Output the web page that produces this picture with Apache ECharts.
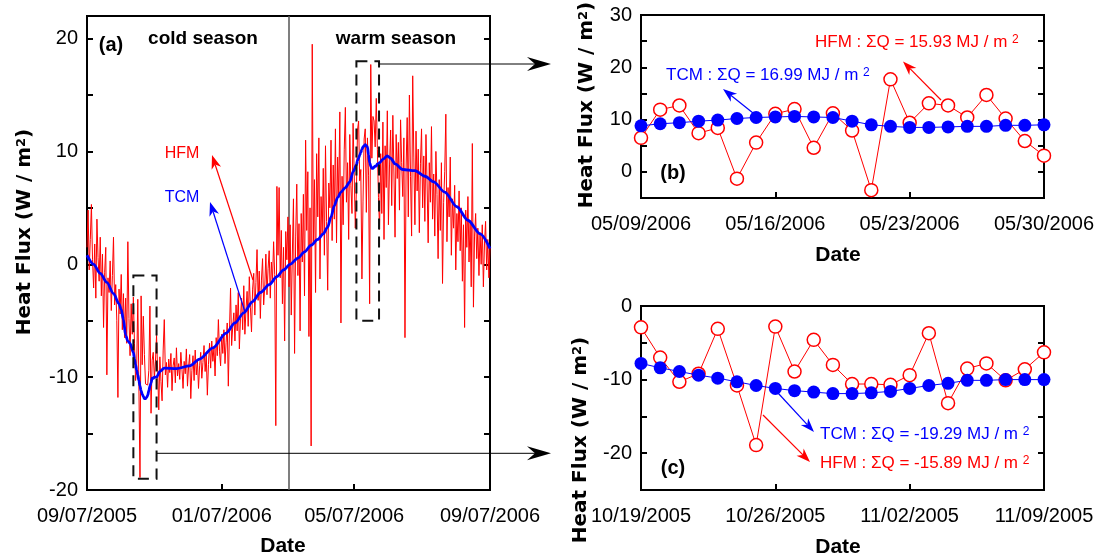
<!DOCTYPE html>
<html><head><meta charset="utf-8">
<script src="https://cdn.jsdelivr.net/npm/echarts@6/dist/echarts.min.js"></script>
<style>html,body{margin:0;padding:0;background:#fff}#c{width:1109px;height:560px}</style>
</head><body><div id="c"></div>
<script>
// ---------------- data ----------------
// Panel (a): day index 0 = 09/07/2005
const aTickDays = [0, 122, 242, 365];
const aTickLabels = ['09/07/2005', '01/07/2006', '05/07/2006', '09/07/2006'];
const aYTicks = [-20, -15, -10, -5, 0, 5, 10, 15, 20];
const aYLabels = [-20, -10, 0, 10, 20];
const seasonSplitDay = 183;
const coldWindow = [42, 63, -1, -19];      // day start, day end, top, bottom
const warmWindow = [244, 264.5, 18, -5];

const hfmDaily = [
  1.5, 4.8, -0.5, 2.2, 5.3, 0.4, -2.1, 1.8, -3.0, 4.0,
  0.6, -1.5, 2.4, -2.8, 0.9, -5.6, -0.7, 1.5, -9.8, -1.2,
  -2.5, 0.3, -4.1, -1.0, 2.4, -3.6, -1.8, -5.0, -11.8, -2.2,
  -4.4, -0.9, -5.8, -2.6, -6.5, -3.0, -7.0, 2.0, -4.8, -8.1, -3.5, -6.2,
  -2.9, -7.0, -10.3, -9.2, -3.1, -10.8, -18.9, -2.8, -8.9, -4.6, -8.0, -10.6, -10.6, -10.7, -9.4, -3.7, -13.2, -8.5, -7.8, -10.1, -8.6, -6.3,
  -9.5, -12.9, -8.2, -10.4, -12.1, -7.6, -4.9, -9.8, -8.7, -10.9,
  -8.4, -9.6, -7.9, -11.2, -9.0, -8.3, -10.5, -7.4, -9.9, -8.8,
  -10.2, -7.8, -9.3, -11.0, -8.6, -9.7, -7.5, -10.8, -9.1, -8.0,
  -11.9, -9.4, -8.1, -10.3, -7.6, -9.8, -8.5, -11.0, -9.0, -7.8,
  -10.1, -8.7, -7.2, -9.5, -8.0, -11.6, -8.9, -7.0, -9.2, -6.8,
  -8.6, -7.4, -9.9, -6.5, -8.1, -4.9, -7.7, -9.0, -6.2, -7.9,
  -5.8, -8.8, -6.9, -5.2, -10.8, -6.0, -2.1, -7.2, -5.5, -4.3,
  -6.8, -3.6, -5.9, -2.5, -7.5, -4.8, -3.0, -5.8, -1.9, -6.2,
  -4.0, -2.4, -5.5, -1.1, -3.8, -6.0, -2.2, -0.8, -4.5, -1.6,
  1.3, -3.2, -0.6, -4.8, -1.4, 0.5, -3.6, -2.0, 0.9, -2.7,
  -0.4, 1.2, -3.0, 0.2, -1.5, 2.0, -0.9, -14.3, 6.9, 0.8,
  6.8, -1.2, 3.0, -3.5, 1.5, -6.8, 2.9, 0.4, 4.2, -2.0,
  3.5, -4.5, 1.0, 5.8, -7.9, 2.5, 7.1, -1.0, 3.6, -5.9,
  4.5, 0.2, 6.2, -2.8, 11.0, 3.0, 8.2, -6.4, 5.0, -16.1,
  19.5, 1.8, 7.5, -2.5, 9.8, 4.2, 11.2, -1.3, 6.0, 2.5,
  8.5, 0.8, 10.5, 3.8, -2.3, 7.2, 5.0, 11.0, 2.1, 8.8,
  4.0, 12.0, 1.9, 9.5, 6.2, 13.5, -5.2, 7.8, 3.5, 10.2,
  13.9, 5.5, 9.0, 2.2, 11.5, 7.0, 4.5, 12.5, 8.0, 3.2,
  6.5, 11.9, 12.7, 7.4, 8.4, -1.3, 5.6, 11.1, 12.0, 4.6, 11.2, 7.9, -3.5, 17.7, 9.4, 13.1, 12.7, 10.4, 14.7, 10.2, 5.9, 3.1,
  9.8, 4.5, 12.6, 2.2, 10.5, 6.8, 13.6, 3.5, 8.8, 11.9,
  5.2, 13.2, 8.0, 2.4, 11.5, 7.6, 10.8, 4.8, 12.8, 9.0,
  6.0, 11.2, -6.5, 8.5, 13.0, 4.2, 15.0, 7.8, 2.5, 16.7,
  9.5, 3.5, 11.8, 6.5, 10.2, 2.8, 8.9, 12.0, 5.0, 9.6,
  3.8, 11.5, 7.2, 1.9, 9.0, 5.5, 12.2, 4.0, 8.0, 2.5,
  10.0, 6.2, 0.5, 7.5, 3.0, 9.0, -1.7, 5.5, 8.2, 13.3,
  2.0, 6.8, 4.2, 9.5, 0.8, 5.8, 3.2, 7.0, -0.5, 4.5,
  2.0, 6.5, 1.2, 5.0, -1.5, 3.5, -5.6, 4.8, 1.5, 6.0,
  0.2, 3.8, -2.0, 10.7, -3.8, 2.5, 4.5, 0.5, 3.2, -1.0,
  2.8, 0.0, 3.5, -2.0, 1.8, 3.8, -0.5, 2.2, -1.2, 1.5
];

const tcmDays = [
  0, 6, 12, 18, 24, 29, 31, 33, 35, 37, 39,
  42, 43, 44, 45, 46, 47, 48, 49, 50, 51, 52, 53, 54, 55, 56, 57, 58, 59, 60, 61, 62, 63,
  66, 70, 81, 93, 102, 114, 126, 134, 142, 150, 157, 165, 172, 178, 184, 191, 197, 203, 209, 214, 218, 221, 224, 227, 230, 234, 238, 241,
  244, 245, 246, 247, 248, 249, 250, 251, 252, 253, 254, 255, 256, 257, 258, 259, 260, 261, 262, 263, 264, 265,
  268, 272, 275, 279, 286, 297, 306, 314, 324, 335, 345, 356, 365
];
const tcmValues = [
  0.8, 0.0, -0.8, -1.6, -2.6, -3.5, -4.0, -4.9, -6.3, -6.8, -7.0,
  -7.8, -8.4, -8.9, -9.4, -9.8, -10.3, -10.8, -11.2, -11.5, -11.7, -11.9, -11.9, -11.8, -11.6, -11.2, -10.8, -10.5, -10.1, -10.1, -10.0, -10.0, -10.0,
  -9.5, -9.2, -9.25, -9.0, -8.4, -7.4, -6.1, -5.2, -4.3, -3.3, -2.5, -1.8, -1.1, -0.5, 0.0, 0.55, 1.1, 1.7, 2.2, 2.7, 3.3, 4.2, 5.2, 5.9, 6.4, 6.8, 7.3, 8.2,
  8.8, 9.2, 9.4, 9.7, 9.9, 10.2, 10.4, 10.5, 10.6, 10.5, 10.4, 9.7, 9.0, 8.7, 8.5, 8.5, 8.6, 8.7, 8.7, 8.9, 8.9, 9.0,
  9.3, 9.6, 9.4, 8.9, 8.4, 8.3, 7.8, 7.3, 6.4, 5.1, 3.9, 2.7, 1.4
];

// Panel (b): 05/09/2006 .. 05/30/2006
const bTickIdx = [0, 7, 14, 21];
const bTickLabels = ['05/09/2006', '05/16/2006', '05/23/2006', '05/30/2006'];
const bYTicks = [-5, 0, 5, 10, 15, 20, 25, 30];
const bYLabels = [0, 10, 20, 30];
const bHFM = [6.5, 11.9, 12.7, 7.4, 8.4, -1.3, 5.6, 11.1, 12.0, 4.6, 11.2, 7.9, -3.5, 17.7, 9.4, 13.1, 12.7, 10.4, 14.7, 10.2, 5.9, 3.1];
const bTCM = [8.8, 9.2, 9.4, 9.7, 9.9, 10.2, 10.4, 10.5, 10.6, 10.5, 10.4, 9.7, 9.0, 8.7, 8.5, 8.5, 8.6, 8.7, 8.7, 8.9, 8.9, 9.0];

// Panel (c): 10/19/2005 .. 11/09/2005
const cTickIdx = [0, 7, 14, 21];
const cTickLabels = ['10/19/2005', '10/26/2005', '11/02/2005', '11/09/2005'];
const cYTicks = [-25, -20, -15, -10, -5, 0];
const cYLabels = [-20, -10, 0];
const cHFM = [-2.9, -7.0, -10.3, -9.2, -3.1, -10.8, -18.9, -2.8, -8.9, -4.6, -8.0, -10.6, -10.6, -10.7, -9.4, -3.7, -13.2, -8.5, -7.8, -10.1, -8.6, -6.3];
const cTCM = [-7.8, -8.4, -8.9, -9.4, -9.8, -10.3, -10.8, -11.2, -11.5, -11.7, -11.9, -11.9, -11.8, -11.6, -11.2, -10.8, -10.5, -10.1, -10.1, -10.0, -10.0, -10.0];

// ---------------- chart ----------------
const FONT = 'Liberation Sans';
const TFONT = 'DejaVu Sans';
const RED = '#ff0000', BLUE = '#0000ff';
const chart = echarts.init(document.getElementById('c'), null, {renderer: 'canvas'});

function xAxisFor(gi, min, max, ticks, labels) {
  return {
    type: 'value', gridIndex: gi, min, max, position: 'bottom',
    axisLine: {show: false, onZero: false}, splitLine: {show: false},
    axisTick: {show: true, inside: true, length: 6, customValues: ticks, lineStyle: {color: '#000', width: 2}},
    axisLabel: {show: true, customValues: ticks, margin: 16, color: '#000', fontSize: 20, fontFamily: FONT,
      formatter: v => labels[ticks.indexOf(v)] || ''}
  };
}
function yAxisFor(gi, min, max, ticks, labels, right) {
  return {
    type: 'value', gridIndex: gi, min, max, position: right ? 'right' : 'left',
    axisLine: {show: false, onZero: false}, splitLine: {show: false},
    axisTick: {show: true, inside: true, length: 6, customValues: ticks, lineStyle: {color: '#000', width: 2}},
    axisLabel: {show: !right, customValues: labels, margin: 9, color: '#000', fontSize: 20, fontFamily: FONT,
      formatter: v => String(v)}
  };
}

function arrow(x1, y1, x2, y2, color, lw, L, W, notch) {
  const dx = x2 - x1, dy = y2 - y1, len = Math.hypot(dx, dy);
  const ux = dx / len, uy = dy / len, nx = -uy, ny = ux;
  const bx = x2 - ux * L, by = y2 - uy * L;
  const mx = x2 - ux * (L - notch), my = y2 - uy * (L - notch);
  return [
    {type: 'line', z: 100, shape: {x1, y1, x2: mx, y2: my}, style: {stroke: color, lineWidth: lw}},
    {type: 'polygon', z: 100, shape: {points: [[x2, y2], [bx + nx * W, by + ny * W], [mx, my], [bx - nx * W, by - ny * W]]}, style: {fill: color}}
  ];
}
function txt(x, y, text, opts) {
  const o = Object.assign({size: 20, weight: 'normal', color: '#000', align: 'center', rot: 0, rich: null}, opts || {});
  const style = {text, fill: o.color, fontSize: o.size, fontWeight: o.weight, fontFamily: FONT,
    align: o.align, verticalAlign: 'middle', textAlign: o.align, textVerticalAlign: 'middle'};
  if (o.rich) style.rich = o.rich;
  return {type: 'text', z: 100, x, y, rotation: o.rot, style};
}
const titleRich = {
  b: {fontSize: 20, fontWeight: 'bold', fontFamily: TFONT, fill: '#000', color: '#000'},
  s: {fontSize: 13, fontWeight: 'bold', fontFamily: TFONT, fill: '#000', color: '#000', verticalAlign: 'top'}
};
function annRich(color) {
  return {
    t: {fontSize: 17, fontFamily: FONT, fill: color, color: color},
    s: {fontSize: 12, fontFamily: FONT, fill: color, color: color, verticalAlign: 'top'}
  };
}
const yTitle = '{b|Heat Flux (W / m}{s|2}{b|)}';

const graphic = [].concat(
  txt(25, 232, yTitle, {rot: Math.PI / 2, rich: titleRich}),
  txt(587, 105, yTitle, {rot: Math.PI / 2, rich: titleRich}),
  txt(581, 440, yTitle, {rot: Math.PI / 2, rich: titleRich}),
  txt(283, 546, 'Date', {size: 21, weight: 'bold'}),
  txt(838, 255, 'Date', {size: 21, weight: 'bold'}),
  txt(838, 547, 'Date', {size: 21, weight: 'bold'}),
  txt(111, 45, '(a)', {size: 20, weight: 'bold'}),
  txt(203, 39, 'cold season', {size: 19, weight: 'bold'}),
  txt(396, 39, 'warm season', {size: 19, weight: 'bold'}),
  txt(182, 154, 'HFM', {size: 16, color: RED}),
  txt(182, 198, 'TCM', {size: 16, color: BLUE}),
  txt(673, 173, '(b)', {size: 20, weight: 'bold'}),
  txt(673, 468, '(c)', {size: 20, weight: 'bold'}),
  txt(815, 42, '{t|HFM : \u03A3Q = 15.93 MJ / m }{s|2}', {align: 'left', rich: annRich(RED)}),
  txt(666, 75, '{t|TCM : \u03A3Q = 16.99 MJ / m }{s|2}', {align: 'left', rich: annRich(BLUE)}),
  txt(820, 434, '{t|TCM : \u03A3Q = -19.29 MJ / m }{s|2}', {align: 'left', rich: annRich(BLUE)}),
  txt(820, 463, '{t|HFM : \u03A3Q = -15.89 MJ / m }{s|2}', {align: 'left', rich: annRich(RED)}),
  arrow(253, 280, 212, 155, RED, 1.2, 14, 5, 4),
  arrow(245, 312, 210, 202, BLUE, 1.2, 14, 5, 4),
  arrow(941, 100, 903, 61.5, RED, 1.2, 14, 5, 4),
  arrow(753, 113, 723, 89, BLUE, 1.2, 14, 5, 4),
  arrow(778, 393, 814, 432, BLUE, 1.2, 14, 5, 4),
  arrow(763, 415, 810, 462, RED, 1.2, 14, 5, 4),
  arrow(379, 64, 551, 64, '#000', 1, 24, 7, 8),
  arrow(157, 453.3, 551, 453.3, '#000', 1, 24, 7, 8)
);

const option = {
  animation: false,
  backgroundColor: '#fff',
  grid: [
    {left: 87, top: 16, width: 403, height: 474, show: true, borderColor: '#000', borderWidth: 2, backgroundColor: 'transparent'},
    {left: 641, top: 15, width: 403, height: 183, show: true, borderColor: '#000', borderWidth: 2, backgroundColor: 'transparent'},
    {left: 641, top: 306, width: 403, height: 184, show: true, borderColor: '#000', borderWidth: 2, backgroundColor: 'transparent'}
  ],
  xAxis: [
    xAxisFor(0, 0, 365, aTickDays, aTickLabels),
    xAxisFor(1, 0, 21, bTickIdx, bTickLabels),
    xAxisFor(2, 0, 21, cTickIdx, cTickLabels)
  ],
  yAxis: [
    yAxisFor(0, -20, 22, aYTicks, aYLabels, false),
    yAxisFor(1, -5, 30, bYTicks, bYLabels, false),
    yAxisFor(2, -25, 0, cYTicks, cYLabels, false),
    yAxisFor(0, -20, 22, aYTicks, aYLabels, true),
    yAxisFor(1, -5, 30, bYTicks, bYLabels, true),
    yAxisFor(2, -25, 0, cYTicks, cYLabels, true)
  ],
  series: [
    {
      type: 'line', xAxisIndex: 0, yAxisIndex: 0, showSymbol: false, symbol: 'none',
      data: hfmDaily.map((v, i) => [i, v]),
      lineStyle: {color: RED, width: 1}, z: 2,
      markLine: {silent: true, symbol: 'none', label: {show: false}, z: 1,
        lineStyle: {color: '#555', width: 1.5, type: 'solid'},
        data: [{xAxis: seasonSplitDay}]},
      markArea: {silent: true, z: 6, label: {show: false},
        itemStyle: {color: 'rgba(0,0,0,0)', borderColor: '#111', borderWidth: 2, borderType: [11, 7]},
        data: [
          [{xAxis: coldWindow[0], yAxis: coldWindow[2]}, {xAxis: coldWindow[1], yAxis: coldWindow[3]}],
          [{xAxis: warmWindow[0], yAxis: warmWindow[2]}, {xAxis: warmWindow[1], yAxis: warmWindow[3]}]
        ]}
    },
    {
      type: 'line', xAxisIndex: 0, yAxisIndex: 0, showSymbol: false, symbol: 'none',
      data: tcmDays.map((d, i) => [d, tcmValues[i]]),
      smooth: 0.3, smoothMonotone: 'x',
      lineStyle: {color: BLUE, width: 2.8}, z: 3
    },
    {
      type: 'line', xAxisIndex: 1, yAxisIndex: 1, clip: false,
      data: bHFM.map((v, i) => [i, v]),
      symbol: 'circle', symbolSize: 13,
      lineStyle: {color: RED, width: 1},
      itemStyle: {color: '#fff', borderColor: RED, borderWidth: 1.5}, z: 2
    },
    {
      type: 'line', xAxisIndex: 1, yAxisIndex: 1, clip: false,
      data: bTCM.map((v, i) => [i, v]),
      symbol: 'circle', symbolSize: 13,
      lineStyle: {color: BLUE, width: 1},
      itemStyle: {color: BLUE, borderColor: BLUE, borderWidth: 0}, z: 3
    },
    {
      type: 'line', xAxisIndex: 2, yAxisIndex: 2, clip: false,
      data: cHFM.map((v, i) => [i, v]),
      symbol: 'circle', symbolSize: 13,
      lineStyle: {color: RED, width: 1},
      itemStyle: {color: '#fff', borderColor: RED, borderWidth: 1.5}, z: 2
    },
    {
      type: 'line', xAxisIndex: 2, yAxisIndex: 2, clip: false,
      data: cTCM.map((v, i) => [i, v]),
      symbol: 'circle', symbolSize: 13,
      lineStyle: {color: BLUE, width: 1},
      itemStyle: {color: BLUE, borderColor: BLUE, borderWidth: 0}, z: 3
    }
  ],
  graphic: {elements: graphic}
};
chart.setOption(option);
</script>
</body></html>
